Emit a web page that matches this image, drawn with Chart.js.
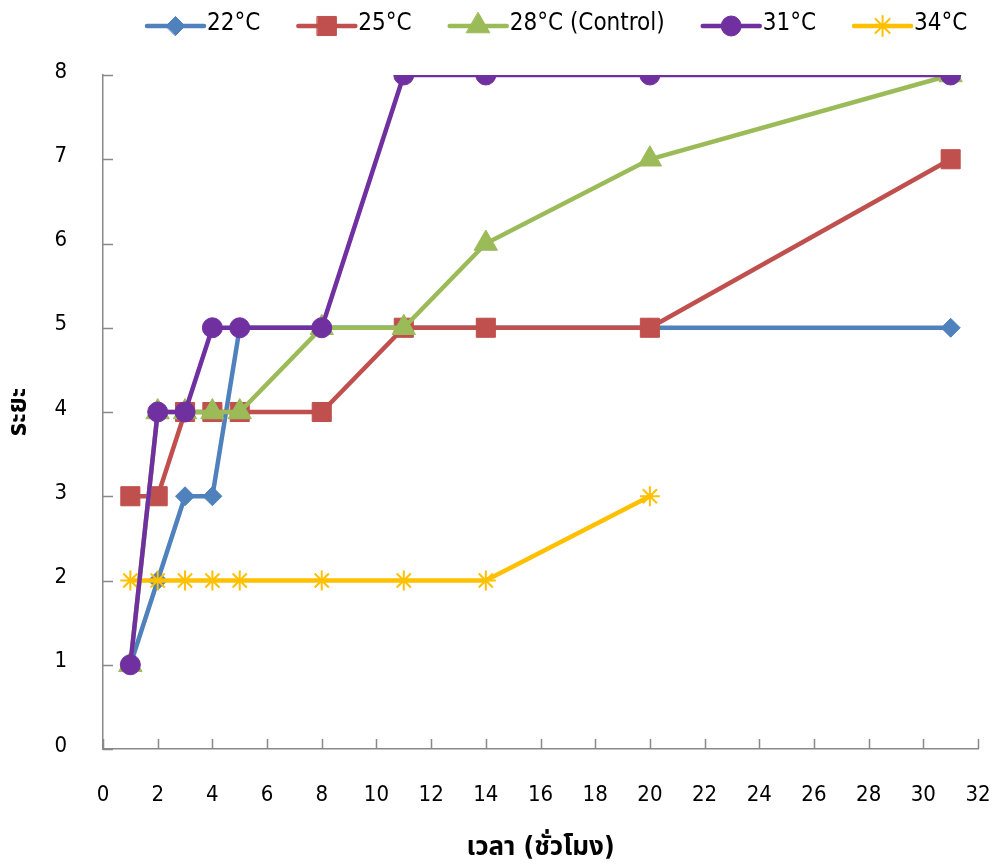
<!DOCTYPE html>
<html>
<head>
<meta charset="utf-8">
<script src="https://cdn.jsdelivr.net/npm/chart.js@4/dist/chart.umd.min.js"></script>
<style>
  html, body { margin: 0; padding: 0; background: #fff; }
  #wrap { width: 995px; height: 864px; position: relative; }
</style>
</head>
<body>
<div id="wrap"><canvas id="c" width="995" height="864"></canvas></div>
<script>
// Hours at which stages were recorded
const hours = [1, 2, 3, 4, 5, 8, 11, 14, 20, 31];

// Developmental stage per temperature
const stage22 = [1, 2, 3, 3, 5, 5, 5, 5, 5, 5];
const stage25 = [3, 3, 4, 4, 4, 4, 5, 5, 5, 7];
const stage28 = [1, 4, 4, 4, 4, 5, 5, 6, 7, 8];
const stage31 = [1, 4, 4, 5, 5, 5, 8, 8, 8, 8];
const stage34 = [2, 2, 2, 2, 2, 2, 2, 2, 3, null];

const seriesNames = ['22°C', '25°C', '28°C (Control)', '31°C', '34°C'];
const xTicks = [0, 2, 4, 6, 8, 10, 12, 14, 16, 18, 20, 22, 24, 26, 28, 30, 32];
const yTicks = [0, 1, 2, 3, 4, 5, 6, 7, 8];

const xTitle = 'เวลา (ชั่วโมง)';
const yTitle = 'ระยะ';

const FONT = "'DejaVu Sans Condensed', 'DejaVu Sans', 'Noto Sans Thai', sans-serif";
const AXIS_COLOR = '#898989';

function toPoints(vals) {
  return hours.map((h, i) => ({ x: h, y: vals[i] }));
}

const styles = [
  { color: '#4F81BD', pointStyle: 'rectRot',  radius: 9.5, order: 4 },
  { color: '#C0504D', pointStyle: 'rect',     radius: 13.5, order: 3 },
  { color: '#9BBB59', pointStyle: 'triangle', radius: 13.5, order: 2 },
  { color: '#7030A0', pointStyle: 'circle',   radius: 10,  order: 0 },
  { color: '#FFC000', pointStyle: 'star',     radius: 10,  order: 1 }
];
const values = [stage22, stage25, stage28, stage31, stage34];

const datasets = values.map((vals, i) => {
  const s = styles[i];
  const isStar = s.pointStyle === 'star';
  return {
    label: seriesNames[i],
    data: toPoints(vals),
    borderColor: s.color,
    backgroundColor: s.color,
    borderWidth: 4.5,
    pointStyle: s.pointStyle,
    pointRadius: s.radius,
    pointHoverRadius: s.radius,
    pointBackgroundColor: s.color,
    pointBorderColor: s.color,
    pointBorderWidth: isStar ? 2 : 1,
    tension: 0,
    spanGaps: false,
    order: s.order
  };
});

// Short tick marks pointing into the plot area
const innerTicks = {
  id: 'innerTicks',
  beforeDatasetsDraw(chart) {
    const { ctx, chartArea, scales } = chart;
    ctx.save();
    ctx.strokeStyle = AXIS_COLOR;
    ctx.lineWidth = 1.5;
    ctx.beginPath();
    scales.x.ticks.forEach(t => {
      const px = Math.round(scales.x.getPixelForValue(t.value)) + 0.5;
      ctx.moveTo(px, chartArea.bottom);
      ctx.lineTo(px, chartArea.bottom - 10);
    });
    scales.y.ticks.forEach(t => {
      const py = Math.round(scales.y.getPixelForValue(t.value)) + 0.5;
      ctx.moveTo(chartArea.left, py);
      ctx.lineTo(chartArea.left + 10, py);
    });
    ctx.stroke();
    ctx.restore();
  }
};

// Legend row: a line segment with the series marker, followed by its name
const lineLegend = {
  id: 'lineLegend',
  afterDraw(chart) {
    const { ctx } = chart;
    const segLen = 57, gapText = 3, gapItem = 38, y = 26;
    ctx.save();
    ctx.font = '24px ' + FONT;
    ctx.textBaseline = 'middle';
    ctx.textAlign = 'left';
    let x = 147;
    chart.data.datasets.forEach((ds, i) => {
      const s = styles[i];
      ctx.strokeStyle = s.color;
      ctx.lineWidth = 4.5;
      ctx.lineCap = 'round';
      ctx.beginPath();
      ctx.moveTo(x, y);
      ctx.lineTo(x + segLen, y);
      ctx.stroke();
      ctx.fillStyle = s.color;
      ctx.strokeStyle = s.color;
      ctx.lineWidth = s.pointStyle === 'star' ? 2 : 1;
      Chart.helpers.drawPoint(ctx, {
        pointStyle: s.pointStyle,
        radius: s.radius,
        rotation: 0,
        borderWidth: ctx.lineWidth
      }, x + segLen / 2, y);
      ctx.fillStyle = '#000';
      const tx = x + segLen + gapText;
      ctx.fillText(ds.label, tx, y - 2);
      x = tx + ctx.measureText(ds.label).width + gapItem;
    });
    ctx.restore();
  }
};

new Chart(document.getElementById('c'), {
  type: 'line',
  data: { datasets },
  plugins: [innerTicks, lineLegend],
  options: {
    responsive: false,
    animation: false,
    layout: { padding: { top: 75, right: 17, bottom: 0, left: 0 } },
    plugins: {
      legend: { display: false },
      tooltip: { enabled: false }
    },
    scales: {
      x: {
        type: 'linear',
        min: 0,
        max: 32,
        afterBuildTicks(scale) { scale.ticks = xTicks.map(v => ({ value: v })); },
        afterFit(scale) {
          scale.height = 115;
          scale.paddingLeft = 0;
          scale.paddingRight = 0;
        },
        grid: { display: false, drawTicks: false },
        border: { display: true, color: AXIS_COLOR, width: 1.5 },
        ticks: {
          color: '#000',
          padding: 33,
          maxRotation: 0,
          autoSkip: false,
          font: { family: FONT, size: 22 }
        },
        title: {
          display: true,
          text: xTitle,
          color: '#000',
          padding: 0,
          font: { family: FONT, size: 26, weight: 'bold' }
        }
      },
      y: {
        type: 'linear',
        min: 0,
        max: 8,
        afterBuildTicks(scale) { scale.ticks = yTicks.map(v => ({ value: v })); },
        afterFit(scale) { scale.width = 103; },
        grid: { display: false, drawTicks: false },
        border: { display: true, color: AXIS_COLOR, width: 1.5 },
        ticks: {
          color: '#000',
          padding: 36,
          labelOffset: -3,
          autoSkip: false,
          font: { family: FONT, size: 22 }
        },
        title: {
          display: true,
          text: yTitle,
          color: '#000',
          padding: { top: 4, bottom: 0 },
          font: { family: FONT, size: 26, weight: 'bold' }
        }
      }
    }
  }
});
</script>
</body>
</html>
